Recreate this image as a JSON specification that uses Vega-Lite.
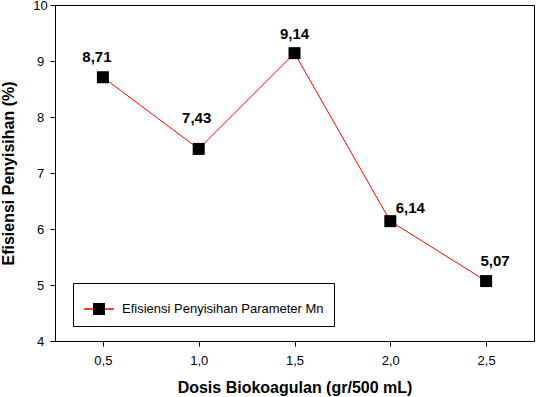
{
  "$schema": "https://vega.github.io/schema/vega-lite/v6.json",
  "width": 479,
  "height": 336,
  "autosize": {"type": "none"},
  "padding": {"left": 55, "top": 5, "right": 2, "bottom": 56},
  "background": "white",
  "config": {
    "font": "Liberation Sans",
    "view": {"stroke": "black", "strokeWidth": 1},
    "locale": {"number": {"decimal": ",", "thousands": ".", "grouping": [3], "currency": ["", ""]}},
    "axis": {
      "grid": false,
      "domainColor": "black",
      "tickColor": "black",
      "tickSize": 5,
      "labelColor": "black",
      "labelFont": "Liberation Sans",
      "labelFontSize": 13,
      "titleFont": "Liberation Sans",
      "titleFontSize": 16,
      "titleFontWeight": "bold",
      "titleColor": "black"
    }
  },
  "data": {
    "values": [
      {"dosis": 0.5, "efisiensi": 8.71},
      {"dosis": 1.0, "efisiensi": 7.43},
      {"dosis": 1.5, "efisiensi": 9.14},
      {"dosis": 2.0, "efisiensi": 6.14},
      {"dosis": 2.5, "efisiensi": 5.07}
    ]
  },
  "encoding": {
    "x": {
      "field": "dosis",
      "type": "quantitative",
      "scale": {"domain": [0.25, 2.75], "nice": false, "zero": false},
      "axis": {
        "title": "Dosis Biokoagulan (gr/500 mL)",
        "values": [0.5, 1.0, 1.5, 2.0, 2.5],
        "format": ".1f",
        "labelPadding": 8,
        "titlePadding": 12
      }
    },
    "y": {
      "field": "efisiensi",
      "type": "quantitative",
      "scale": {"domain": [4, 10], "nice": false, "zero": false},
      "axis": {
        "title": "Efisiensi Penyisihan (%)",
        "values": [4, 5, 6, 7, 8, 9, 10],
        "format": "d",
        "labelAlign": "center",
        "labelPadding": 10,
        "titlePadding": 16
      }
    }
  },
  "layer": [
    {
      "mark": {"type": "line", "strokeWidth": 1},
      "encoding": {
        "stroke": {
          "datum": "Efisiensi Penyisihan Parameter Mn",
          "type": "nominal",
          "scale": {"range": ["#ff0000"]},
          "legend": {
            "title": null,
            "orient": "none",
            "legendX": 18,
            "legendY": 278,
            "strokeColor": "black",
            "padding": 10,
            "symbolType": "M-1,0H1",
            "symbolSize": 900,
            "symbolStrokeWidth": 1.5,
            "labelFontSize": 13,
            "labelFont": "Liberation Sans",
            "labelColor": "black",
            "labelLimit": 0,
            "labelOffset": 7
          }
        }
      }
    },
    {
      "mark": {"type": "point", "shape": "square", "filled": true, "size": 144, "opacity": 1, "strokeWidth": 0},
      "encoding": {
        "fill": {
          "datum": "Mn",
          "type": "nominal",
          "scale": {"range": ["black"]},
          "legend": {
            "title": null,
            "orient": "none",
            "legendX": 18,
            "legendY": 278,
            "padding": 10,
            "symbolType": "M-0.4,-0.4H0.4V0.4H-0.4Z",
            "symbolSize": 900,
            "symbolStrokeWidth": 1.5,
            "symbolOpacity": 1,
            "labelFontSize": 13,
            "labelFont": "Liberation Sans",
            "labelExpr": "''",
            "labelOffset": 7
          }
        }
      }
    },
    {
      "transform": [{"filter": "datum.dosis == 0.5"}],
      "mark": {"type": "text", "fontWeight": "bold", "fontSize": 15, "color": "black", "baseline": "middle", "dx": -6, "dy": -20},
      "encoding": {"text": {"field": "efisiensi", "type": "quantitative", "format": ".2f"}}
    },
    {
      "transform": [{"filter": "datum.dosis == 1.0"}],
      "mark": {"type": "text", "fontWeight": "bold", "fontSize": 15, "color": "black", "baseline": "middle", "dx": -2, "dy": -31},
      "encoding": {"text": {"field": "efisiensi", "type": "quantitative", "format": ".2f"}}
    },
    {
      "transform": [{"filter": "datum.dosis == 1.5"}],
      "mark": {"type": "text", "fontWeight": "bold", "fontSize": 15, "color": "black", "baseline": "middle", "dx": 0, "dy": -19},
      "encoding": {"text": {"field": "efisiensi", "type": "quantitative", "format": ".2f"}}
    },
    {
      "transform": [{"filter": "datum.dosis == 2.0"}],
      "mark": {"type": "text", "fontWeight": "bold", "fontSize": 15, "color": "black", "baseline": "middle", "dx": 20, "dy": -13},
      "encoding": {"text": {"field": "efisiensi", "type": "quantitative", "format": ".2f"}}
    },
    {
      "transform": [{"filter": "datum.dosis == 2.5"}],
      "mark": {"type": "text", "fontWeight": "bold", "fontSize": 15, "color": "black", "baseline": "middle", "dx": 9, "dy": -20},
      "encoding": {"text": {"field": "efisiensi", "type": "quantitative", "format": ".2f"}}
    }
  ]
}
